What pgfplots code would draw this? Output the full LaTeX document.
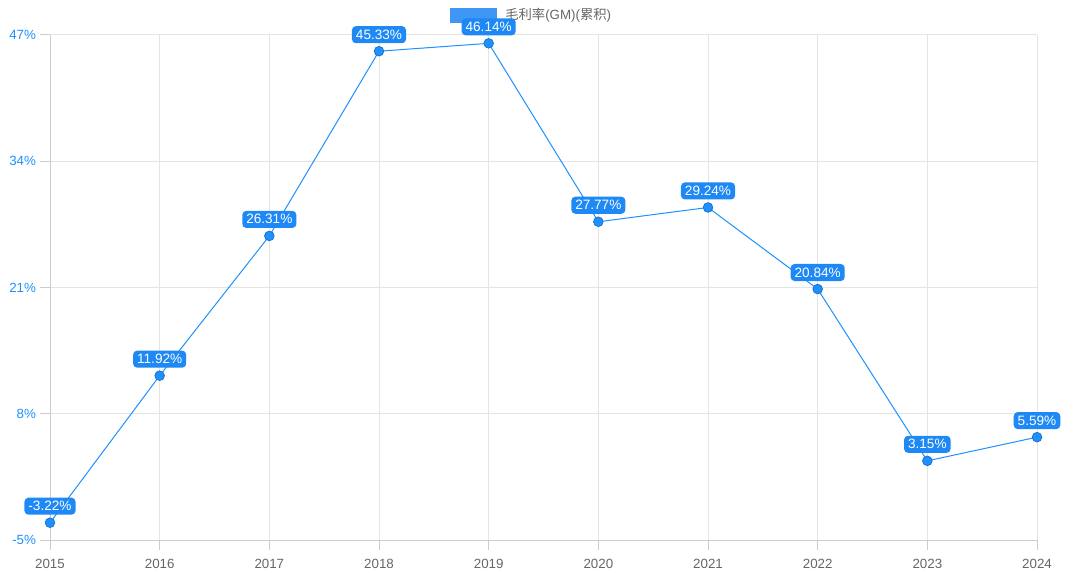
\documentclass[border=0pt]{standalone}
\usepackage{fontspec}
\setmainfont{Liberation Sans}
\newfontfamily\cjk{Noto Sans CJK SC}
\usepackage{pgfplots}
\pgfplotsset{compat=1.18}
\definecolor{gmblue}{RGB}{30,136,245}
\definecolor{tickblue}{RGB}{30,144,255}
\definecolor{gridgray}{RGB}{228,228,228}
\definecolor{axisgray}{RGB}{204,204,204}
\definecolor{labgray}{RGB}{102,102,102}
\definecolor{legblue}{RGB}{64,150,245}
\begin{document}
\begin{tikzpicture}
\begin{axis}[
  scale only axis, width=740.25pt, height=378.75pt,
  xmin=2015, xmax=2024, ymin=-5, ymax=47,
  xtick={2015,2016,2017,2018,2019,2020,2021,2022,2023,2024},
  xticklabels={2015,2016,2017,2018,2019,2020,2021,2022,2023,2024},
  ytick={-5,8,21,34,47},
  yticklabels={-5\%,8\%,21\%,34\%,47\%},
  x tick label style={font=\fontsize{10}{11}\selectfont, text=labgray, yshift=-3pt},
  y tick label style={font=\fontsize{10}{11}\selectfont, text=tickblue, xshift=0.5pt},
  axis x line=bottom, axis y line=left,
  axis line style={draw=axisgray, line width=0.75pt, -},
  grid=major, grid style={gridgray, line width=0.75pt},
  tick align=outside, major tick length=7.5pt,
  tick style={axisgray, line width=0.75pt},
  clip=false,
]
% legend (drawn first so that the value labels lie above it)
\fill[legblue] (axis description cs:0.4053,1.0238) rectangle (axis description cs:0.4529,1.0535);
\node[anchor=west, inner sep=0pt, text=labgray, font=\fontsize{10}{11}\selectfont]
  at (axis description cs:0.4610,1.0386) {{\cjk 毛利率}(GM)({\cjk 累积})};
\addplot[color=tickblue, line width=0.75pt, mark=*, mark size=3.6pt,
  mark options={fill=tickblue, draw=gmblue!85!black, line width=0.6pt},
  point meta=y,
  nodes near coords={\pgfmathprintnumber[fixed,precision=2,zerofill,assume math mode=true]{\pgfplotspointmeta}\%},
  every node near coord/.append style={anchor=south, yshift=6pt, fill=gmblue,
    text=white, rounded corners=3pt, inner xsep=3pt, inner ysep=2.5pt,
    text height=7.3pt, text depth=0.5pt, outer sep=0pt,
    font=\fontsize{10.2}{11}\selectfont}]
coordinates {
(2015,-3.22) (2016,11.92) (2017,26.31) (2018,45.33) (2019,46.14)
(2020,27.77) (2021,29.24) (2022,20.84) (2023,3.15) (2024,5.59)
};
\end{axis}
\pgfresetboundingbox
\path[use as bounding box] (-37.5pt,-31.5pt) rectangle (772.5pt,405pt);
\end{tikzpicture}
\end{document}
